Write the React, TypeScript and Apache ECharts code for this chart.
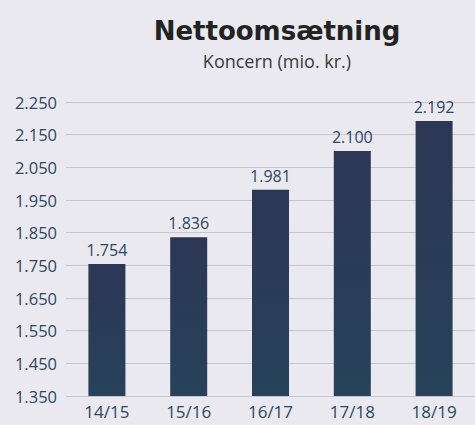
import React, { useEffect, useRef } from "react";
import * as echarts from "echarts";

const categories = ["14/15", "15/16", "16/17", "17/18", "18/19"];
const values = [1754, 1836, 1981, 2100, 2192];
const yMin = 1350;
const yMax = 2250;

const fmt = (v: number) => {
  const s = String(Math.round(v));
  return s.length > 3 ? s.slice(0, s.length - 3) + "." + s.slice(-3) : s;
};

export default function App() {
  const ref = useRef<HTMLDivElement>(null);
  useEffect(() => {
    const chart = echarts.init(ref.current!, null, { renderer: "svg" });
    chart.setOption({
      animation: false,
      backgroundColor: "#e9e9ef",
      title: {
        text: "Nettoomsætning",
        subtext: "Koncern (mio. kr.)",
        left: 272,
        textAlign: "center",
        top: 13,
        itemGap: 8,
        textStyle: {
          fontFamily: "DejaVu Sans",
          fontWeight: "bold",
          fontSize: 26,
          color: "#232323",
        },
        subtextStyle: {
          fontFamily: "Open Sans",
          fontSize: 18,
          color: "#3a3a3a",
        },
      },
      grid: { left: 66, width: 410, top: 102, bottom: 29, containLabel: false },
      xAxis: {
        type: "category",
        data: categories,
        axisLine: { show: false },
        axisTick: { show: false },
        axisLabel: {
          margin: 7,
          fontFamily: "Open Sans",
          fontSize: 17,
          color: "#2b4a5e",
        },
      },
      yAxis: {
        type: "value",
        min: yMin,
        max: yMax,
        interval: 50,
        axisLine: { show: false },
        axisTick: { show: false },
        axisLabel: {
          margin: 9,
          fontFamily: "Open Sans",
          fontSize: 16.5,
          color: "#2d4763",
          formatter: (v: number) => ((v - yMin) % 100 === 0 ? fmt(v) : ""),
        },
        splitLine: {
          lineStyle: { color: ["#c6c6cc", "rgba(0,0,0,0)"], width: 1 },
        },
      },
      series: [
        {
          type: "bar",
          data: values,
          barWidth: 37,
          itemStyle: {
            color: new echarts.graphic.LinearGradient(0, 0, 0, 1, [
              { offset: 0, color: "#2c3755" },
              { offset: 1, color: "#27425a" },
            ]),
          },
          label: {
            show: true,
            position: "top",
            distance: 6,
            fontFamily: "Open Sans",
            fontSize: 16,
            color: "#2d4763",
            formatter: (p: any) => fmt(p.value),
          },
        },
      ],
    });
    return () => chart.dispose();
  }, []);
  return (
    <div
      ref={ref}
      style={{ position: "fixed", left: 0, top: 0, width: 475, height: 425 }}
    />
  );
}
